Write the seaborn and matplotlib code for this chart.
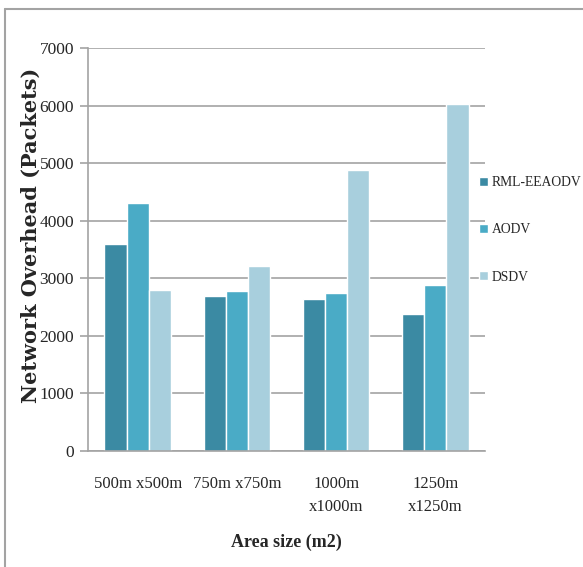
import matplotlib
matplotlib.use("Agg")
import matplotlib.pyplot as plt
from matplotlib.lines import Line2D
import pandas as pd
import seaborn as sns

# Network overhead per area size for each routing protocol
areas = ["500m x500m", "750m x750m", "1000m\nx1000m", "1250m\nx1250m"]
protocols = ["RML-EEAODV", "AODV", "DSDV"]
rml_eeaodv = [3600, 2700, 2640, 2380]
aodv = [4300, 2780, 2750, 2880]
dsdv = [2800, 3210, 4880, 6020]
colors = ["#3b8aa3", "#4aabc6", "#a8cfdd"]

df = pd.DataFrame({
    "area": areas * 3,
    "protocol": [p for p in protocols for _ in areas],
    "overhead": rml_eeaodv + aodv + dsdv,
})

sns.set_theme(style="white")
plt.rcParams["font.family"] = ["Liberation Serif", "DejaVu Serif"]

W, H = 583, 567
fig = plt.figure(figsize=(W / 100, H / 100), dpi=100)
ax = fig.add_axes([88 / W, 1 - 451 / H, (485 - 88) / W, (451 - 48) / H])

sns.barplot(data=df, x="area", y="overhead", hue="protocol",
            hue_order=protocols, palette=colors, width=0.67,
            saturation=1, ax=ax, legend=True)

ax.set_ylim(0, 7000)
ax.set_yticks(range(0, 7001, 1000))
ax.yaxis.grid(True, color="#a3a3a3", linewidth=1.2)
ax.set_axisbelow(True)
for s in ["top", "right"]:
    ax.spines[s].set_visible(False)
for s in ["left", "bottom"]:
    ax.spines[s].set_color("#a3a3a3")
    ax.spines[s].set_linewidth(1.2)
ax.tick_params(axis="y", which="both", left=True, length=6, width=1.2,
               color="#a3a3a3", labelsize=12.5, pad=4)
ax.tick_params(axis="x", bottom=False, labelsize=12, pad=12)
for t in ax.get_xticklabels():
    t.set_linespacing(1.55)

ax.set_xlabel("")
ax.set_ylabel("")
fig.text(286 / W, 1 - 542 / H, "Area size (m2)", ha="center", va="center",
         fontsize=13, fontweight="bold")
fig.text(31 / W, 1 - 235 / H, "Network Overhead (Packets)", ha="center",
         va="center", rotation=90, fontsize=15, fontweight="bold",
         family="DejaVu Serif")

handles, labels = ax.get_legend_handles_labels()
fig.legend(handles, labels, loc="center left",
           bbox_to_anchor=(479 / W, 1 - 230 / H), bbox_transform=fig.transFigure,
           frameon=False, fontsize=9.8, handlelength=0.67, handleheight=0.67,
           handletextpad=0.25, labelspacing=2.5, borderpad=0, borderaxespad=0)
ax.get_legend().remove()

# thin frame lines along the top and left of the figure
fig.add_artist(Line2D([5 / W, 5 / W], [0, 1 - 9 / H],
                      transform=fig.transFigure, color="#a3a3a3", lw=1.5))
fig.add_artist(Line2D([5 / W, 1], [1 - 9 / H, 1 - 9 / H],
                      transform=fig.transFigure, color="#a3a3a3", lw=1.5))

fig.savefig("out.png", dpi=100, facecolor="white")
